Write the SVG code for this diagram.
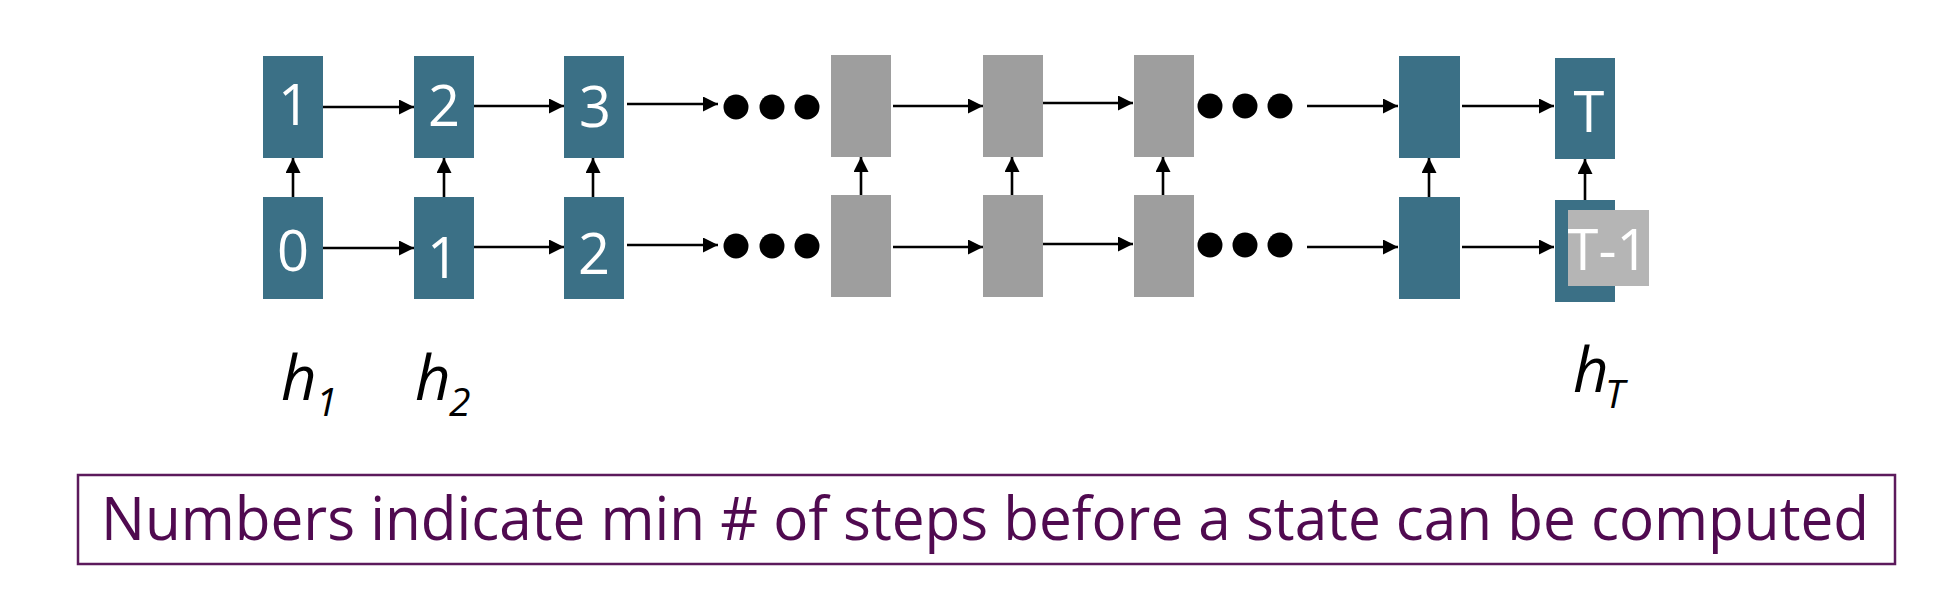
<svg xmlns="http://www.w3.org/2000/svg" width="1934" height="598" viewBox="0 0 1934 598">
<style>
.blue{fill:#3b7086}
.gray{fill:#9e9e9e}
.num{font-family:"Open Sans","Noto Sans",sans-serif;font-size:56px;fill:#ffffff;text-anchor:middle}
.conn line{stroke:#000;stroke-width:2.6;fill:none}
.h{font-family:"Open Sans","Noto Sans",sans-serif;font-style:italic;fill:#000}
.dot{fill:#000}
</style>
<defs>
<marker id="ah" markerUnits="userSpaceOnUse" markerWidth="16" markerHeight="16" refX="15" refY="7.5" orient="auto">
<path d="M0,0 L15,7.5 L0,15 z" fill="#000"/>
</marker>
</defs>
<rect width="1934" height="598" fill="#fff"/>

<g id="top1"><rect class="blue" x="263" y="56" width="60" height="102"/><text class="num" x="294" y="125">1</text></g>
<g id="top2"><rect class="blue" x="414" y="56" width="60" height="102"/><text class="num" x="444" y="126">2</text></g>
<g id="top3"><rect class="blue" x="564" y="56" width="60" height="102"/><text class="num" x="595" y="127">3</text></g>
<g id="topA"><rect class="gray" x="831" y="55" width="60" height="102"/></g>
<g id="topB"><rect class="gray" x="983" y="55" width="60" height="102"/></g>
<g id="topC"><rect class="gray" x="1134" y="55" width="60" height="102"/></g>
<g id="topP"><rect class="blue" x="1399" y="56" width="61" height="102"/></g>
<g id="topT"><rect class="blue" x="1555" y="58" width="60" height="101"/><text class="num" x="1589" y="132">T</text></g>

<g id="bot0"><rect class="blue" x="263" y="197" width="60" height="102"/><text class="num" x="293" y="271">0</text></g>
<g id="bot1"><rect class="blue" x="414" y="197" width="60" height="102"/><text class="num" x="443" y="278">1</text></g>
<g id="bot2"><rect class="blue" x="564" y="197" width="60" height="102"/><text class="num" x="594" y="274">2</text></g>
<g id="botA"><rect class="gray" x="831" y="195" width="60" height="102"/></g>
<g id="botB"><rect class="gray" x="983" y="195" width="60" height="102"/></g>
<g id="botC"><rect class="gray" x="1134" y="195" width="60" height="102"/></g>
<g id="botP"><rect class="blue" x="1399" y="197" width="61" height="102"/></g>
<g id="botT"><rect class="blue" x="1555" y="200" width="60" height="102"/><rect x="1568" y="210" width="81" height="76" fill="#b5b5b5"/><text class="num" x="1608" y="270">T-1</text></g>

<g id="dots">
<circle class="dot" cx="736" cy="107" r="12.5"/><circle class="dot" cx="772" cy="107" r="12.5"/><circle class="dot" cx="807" cy="107" r="12.5"/>
<circle class="dot" cx="736" cy="246" r="12.5"/><circle class="dot" cx="772" cy="246" r="12.5"/><circle class="dot" cx="807" cy="246" r="12.5"/>
<circle class="dot" cx="1210" cy="106" r="12.5"/><circle class="dot" cx="1245" cy="106" r="12.5"/><circle class="dot" cx="1280" cy="106" r="12.5"/>
<circle class="dot" cx="1210" cy="245" r="12.5"/><circle class="dot" cx="1245" cy="245" r="12.5"/><circle class="dot" cx="1280" cy="245" r="12.5"/>
</g>

<g id="connectors" class="conn">
<line x1="323" y1="107" x2="414" y2="107" marker-end="url(#ah)"/>
<line x1="474" y1="106" x2="564" y2="106" marker-end="url(#ah)"/>
<line x1="627" y1="104" x2="718" y2="104" marker-end="url(#ah)"/>
<line x1="893" y1="106" x2="983" y2="106" marker-end="url(#ah)"/>
<line x1="1043" y1="103" x2="1133" y2="103" marker-end="url(#ah)"/>
<line x1="1307" y1="106" x2="1398" y2="106" marker-end="url(#ah)"/>
<line x1="1462" y1="106" x2="1554" y2="106" marker-end="url(#ah)"/>
<line x1="323" y1="248" x2="414" y2="248" marker-end="url(#ah)"/>
<line x1="474" y1="247" x2="564" y2="247" marker-end="url(#ah)"/>
<line x1="627" y1="245" x2="718" y2="245" marker-end="url(#ah)"/>
<line x1="893" y1="247" x2="983" y2="247" marker-end="url(#ah)"/>
<line x1="1043" y1="244" x2="1133" y2="244" marker-end="url(#ah)"/>
<line x1="1307" y1="247" x2="1398" y2="247" marker-end="url(#ah)"/>
<line x1="1462" y1="247" x2="1554" y2="247" marker-end="url(#ah)"/>
<line x1="293" y1="197" x2="293" y2="158" marker-end="url(#ah)"/>
<line x1="444" y1="197" x2="444" y2="158" marker-end="url(#ah)"/>
<line x1="593" y1="197" x2="593" y2="158" marker-end="url(#ah)"/>
<line x1="861" y1="195" x2="861" y2="157" marker-end="url(#ah)"/>
<line x1="1012" y1="195" x2="1012" y2="157" marker-end="url(#ah)"/>
<line x1="1163" y1="195" x2="1163" y2="157" marker-end="url(#ah)"/>
<line x1="1429" y1="197" x2="1429" y2="158" marker-end="url(#ah)"/>
<line x1="1585" y1="200" x2="1585" y2="159" marker-end="url(#ah)"/>
</g>

<g id="labels">
<text class="h" x="281" y="400" font-size="62">h</text><text class="h" x="316" y="416" font-size="39">1</text>
<text class="h" x="415" y="400" font-size="62">h</text><text class="h" x="449" y="416" font-size="39">2</text>
<text class="h" x="1573" y="392" font-size="62">h</text><text class="h" x="1605" y="408" font-size="39">T</text>
</g>

<g id="caption">
<rect x="78" y="475" width="1817" height="89" fill="#fff" stroke="#5c1a5c" stroke-width="2.5"/>
<text x="101" y="540" font-family="'Open Sans','Noto Sans',sans-serif" font-size="60" fill="#500a50" textLength="1768" lengthAdjust="spacingAndGlyphs">Numbers indicate min # of steps before a state can be computed</text>
</g>
</svg>
